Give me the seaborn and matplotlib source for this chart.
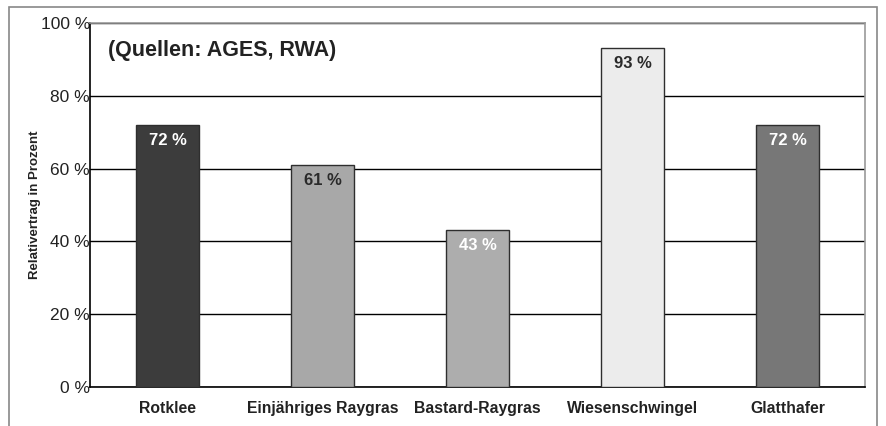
import matplotlib
matplotlib.use("Agg")
import matplotlib.pyplot as plt
import seaborn as sns
import pandas as pd
from matplotlib.patches import Rectangle

categories = ["Rotklee", "Einjähriges Raygras", "Bastard-Raygras", "Wiesenschwingel", "Glatthafer"]
values = [72, 61, 43, 93, 72]
bar_colors = ["#3c3c3c", "#a8a8a8", "#adadad", "#ececec", "#777777"]
label_colors = ["white", "#2a2a2a", "white", "#2a2a2a", "white"]
yticks = [0, 20, 40, 60, 80, 100]
ytick_labels = ["0 %", "20 %", "40 %", "60 %", "80 %", "100 %"]

sns.set_theme(style="white")
plt.rcParams['font.family'] = ['Liberation Sans', 'DejaVu Sans']

W, H = 887, 426
fig = plt.figure(figsize=(W / 100, H / 100), dpi=100)
ax = fig.add_axes([90 / W, 1 - 387 / H, 775 / W, (387 - 23) / H])

df = pd.DataFrame({"cat": categories, "val": values})
sns.barplot(data=df, x="cat", y="val", hue="cat", palette=bar_colors, legend=False,
            width=0.41, edgecolor="#2e2e2e", linewidth=1.0, ax=ax, zorder=3)

ax.set_ylim(0, 100)
ax.set_xlim(-0.5, 4.5)
ax.set_yticks(yticks)
ax.set_yticklabels(ytick_labels, fontsize=12.5, color="#222222")
ax.yaxis.grid(True, color="black", linewidth=1.0, zorder=0)
ax.set_axisbelow(True)

ax.set_xticks([i - 0.5 for i in range(len(categories) + 1)])
ax.set_xticklabels([])
ax.set_xticks(range(len(categories)), minor=True)
ax.set_xticklabels(categories, minor=True, fontsize=11.3, fontweight="bold", color="#222222")
ax.tick_params(axis="x", which="major", direction="out", length=5, width=1, color="black")
ax.tick_params(axis="x", which="minor", length=0, pad=10)
ax.tick_params(axis="y", direction="out", length=4, width=1, color="black", pad=-4)
ax.set_xlabel("")
ax.set_ylabel("Relativertrag in Prozent", fontsize=9.5, fontweight="bold", color="#222222")
ax.yaxis.set_label_coords((41 - 90) / 775, 0.5)

for side in ["left", "bottom"]:
    ax.spines[side].set_color("black")
    ax.spines[side].set_linewidth(1.2)
for side in ["top", "right"]:
    ax.spines[side].set_color("#999999")
    ax.spines[side].set_linewidth(1.2)

for i, (v, c) in enumerate(zip(values, label_colors)):
    ax.text(i, v - 2.2, f"{v} %", ha="center", va="top", fontsize=12,
            fontweight="bold", color=c, zorder=5)

ax.text(0.023, 0.925, "(Quellen: AGES, RWA)", transform=ax.transAxes, fontsize=15.5,
        fontweight="bold", color="#222222", va="center", ha="left")

fig.patches.append(Rectangle((9 / W, -0.05), (877 - 9) / W, 1 - 7 / H + 0.05,
                             transform=fig.transFigure, fill=False,
                             edgecolor="#888888", linewidth=1.2, zorder=0))

fig.savefig("out.png", dpi=100, facecolor="white")
